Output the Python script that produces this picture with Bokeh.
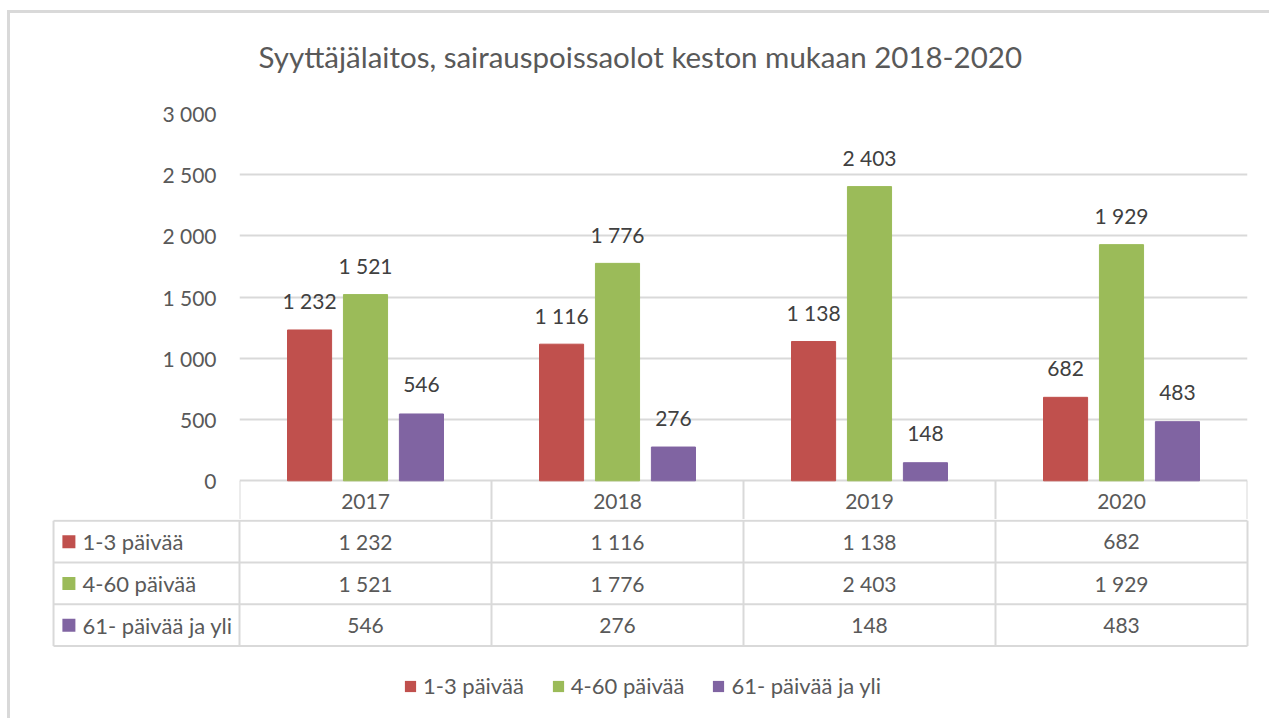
from bokeh.plotting import figure
from bokeh.models import (FactorRange, Range1d, FixedTicker, CustomJSTickFormatter,
                          ColumnDataSource, Legend, LegendItem, Title)
from bokeh.transform import dodge
from bokeh.core.properties import value
from bokeh.embed import file_html
from bokeh.resources import INLINE

# ---------------- data ----------------
title = "Syyttäjälaitos, sairauspoissaolot keston mukaan 2018-2020"
years = ["2017", "2018", "2019", "2020"]
series = ["1-3 päivää", "4-60 päivää", "61- päivää ja yli"]
d_1_3 = [1232, 1116, 1138, 682]
d_4_60 = [1521, 1776, 2403, 1929]
d_61 = [546, 276, 148, 483]
y_ticks = [0, 500, 1000, 1500, 2000, 2500, 3000]
colors = ["#C0504D", "#9BBB59", "#8064A2"]

FONT = "Lato"
TXT = "#595959"
GRID = "#D9D9D9"
BORDER = "3px solid #D9D9D9"


def fmt(v):
    return f"{v:,}".replace(",", "\u00a0")


data = [d_1_3, d_4_60, d_61]
keys = ["s0", "s1", "s2"]
src = {"year": years}
for k, d in zip(keys, data):
    src[k] = d
    src[k + "_lbl"] = [fmt(v) for v in d]
source = ColumnDataSource(src)

# geometry (pixels)
W = 1262
FRAME_L = 229
FRAME_W = 1008
PLOT_H = 368           # 0..3000
ROW_PX = 41.75
Y_MAX = y_ticks[-1]
px_per_unit = PLOT_H / Y_MAX
header_h = ROW_PX / px_per_unit

# ---------------- chart (with header row of the table) ----------------
p1 = figure(width=W, height=100 + PLOT_H + 41, x_range=FactorRange(*years, range_padding=0),
            y_range=Range1d(-header_h, Y_MAX), output_backend="svg", toolbar_location=None,
            min_border_left=FRAME_L, min_border_right=W - FRAME_L - FRAME_W,
            min_border_top=100, min_border_bottom=0, title=title)
p1.styles = {"margin-left": "7px", "margin-top": "10px",
             "border-left": BORDER, "border-top": BORDER}
# blank spacer between the title and the plot area
p1.add_layout(Title(text=" ", text_font_size="1px", standoff=32, text_color="#FFFFFF"),
              "above")
p1.title.align = "left"
p1.title.offset = 19
p1.title.standoff = 10
p1.title.text_font = FONT
p1.title.text_font_size = "29.5px"
p1.title.text_font_style = "normal"
p1.title.text_color = TXT

p1.outline_line_color = None
p1.xaxis.visible = False
p1.xgrid.grid_line_color = None
p1.ygrid.grid_line_color = GRID
p1.ygrid.grid_line_width = 2
p1.yaxis.ticker = FixedTicker(ticks=y_ticks)
p1.yaxis.formatter = CustomJSTickFormatter(
    code="return tick.toString().replace(/\\B(?=(\\d{3})+(?!\\d))/g, '\u00a0');")
p1.yaxis.axis_line_color = None
p1.yaxis.major_tick_line_color = None
p1.yaxis.minor_tick_line_color = None
p1.yaxis.major_tick_out = 0
p1.yaxis.major_tick_in = 0
p1.yaxis.major_label_standoff = 23
p1.yaxis.major_label_text_font = FONT
p1.yaxis.major_label_text_font_size = "21px"
p1.yaxis.major_label_text_color = TXT

offsets = [-0.222, 0.0, 0.222]
for k, off, c in zip(keys, offsets, colors):
    p1.vbar(x=dodge("year", off, range=p1.x_range), top=k, width=0.175,
            source=source, fill_color=c, line_color=c)
    p1.text(x=dodge("year", off, range=p1.x_range), y=k, text=k + "_lbl",
            source=source, text_align="center", text_baseline="alphabetic",
            y_offset=-29, text_font=value(FONT), text_font_size="21px",
            text_color="#404040")

# header row: year cells
p1.segment(x0=dodge("year", -0.5, range=p1.x_range), y0=-header_h,
           x1=dodge("year", -0.5, range=p1.x_range), y1=0, source=source,
           line_color=GRID, line_width=2)
p1.segment(x0=dodge("year", 0.5, range=p1.x_range), y0=-header_h,
           x1=dodge("year", 0.5, range=p1.x_range), y1=0,
           source=ColumnDataSource({"year": years[-1:]}), line_color=GRID, line_width=2)
p1.text(x="year", y=-header_h / 2, text="year", source=source, text_align="center",
        text_baseline="middle", text_font=value(FONT), text_font_size="21px",
        text_color=TXT)

# ---------------- data table rows + legend ----------------
COL_PX = FRAME_W / len(years)
H2 = 199
left_u = -FRAME_L / COL_PX
p2 = figure(width=W, height=H2, x_range=Range1d(left_u, left_u + W / COL_PX),
            y_range=Range1d(H2 / ROW_PX - 0.03, -0.03), output_backend="svg",
            toolbar_location=None, min_border=0)
p2.styles = {"margin-left": "7px", "border-left": BORDER}
p2.axis.visible = False
p2.grid.visible = False
p2.outline_line_color = None

n_cols = len(years)
n_rows = len(series)
lab_u = -0.738
# horizontal lines
hy = list(range(n_rows + 1))
p2.segment(x0=[lab_u] * len(hy), y0=hy, x1=[n_cols] * len(hy), y1=hy,
           line_color=GRID, line_width=2)
# vertical lines
vx = [lab_u] + list(range(n_cols + 1))
p2.segment(x0=vx, y0=[0] * len(vx), x1=vx, y1=[n_rows] * len(vx),
           line_color=GRID, line_width=2)

items = []
for r, (name, d, c) in enumerate(zip(series, data, colors)):
    p2.text(x=[i + 0.5 for i in range(n_cols)], y=[r + 0.5] * n_cols,
            text=[fmt(v) for v in d], text_align="center", text_baseline="middle",
            text_font=value(FONT), text_font_size="21px", text_color=TXT)
    sq = p2.rect(x=[-0.677], y=[r + 0.5], width=13, height=13, width_units="screen",
                 height_units="screen", fill_color=c, line_color=None)
    p2.text(x=[-0.623], y=[r + 0.5], text=[name], text_align="left",
            text_baseline="middle", text_font=value(FONT), text_font_size="22px",
            text_color=TXT)
    items.append(LegendItem(label=name, renderers=[sq]))

legend = Legend(items=items, orientation="horizontal", location=(393, 19),
                glyph_width=14, glyph_height=14, label_standoff=6, spacing=27,
                padding=0, margin=0, border_line_color=None, background_fill_alpha=0,
                label_text_font=FONT, label_text_font_size="22px", label_text_color=TXT)
p2.add_layout(legend)

open("out.html", "w").write(file_html([p1, p2], INLINE))
